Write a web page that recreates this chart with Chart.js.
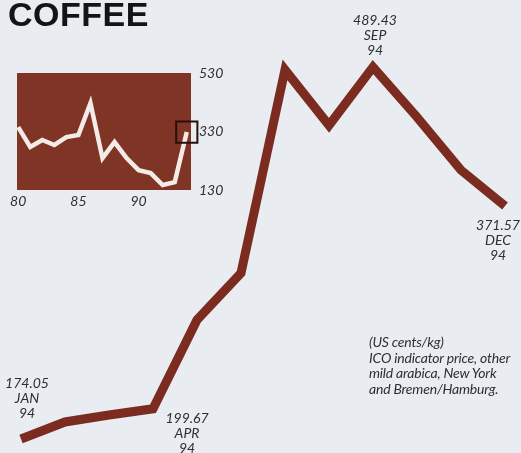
<!DOCTYPE html>
<html>
<head>
<meta charset="utf-8">
<script src="https://cdn.jsdelivr.net/npm/chart.js@4/dist/chart.umd.min.js"></script>
<style>
  html, body { margin: 0; padding: 0; background: #e9ecf0; }
  #wrap { position: relative; width: 521px; height: 453px; overflow: hidden; background: #e9ecf0; }
  #main { position: absolute; left: 0; top: 0; }
  #inset { position: absolute; left: 0; top: 55px; }
  h1 {
    position: absolute; left: 8px; top: -5px; margin: 0;
    font: bold 34px "Liberation Sans", Arial, sans-serif; color: #141414; letter-spacing: 0.5px;
  }
  .note {
    position: absolute; left: 369px; top: 334px;
    font: italic 14px Lato, "Open Sans", sans-serif; line-height: 15.5px; color: #2f2f2f;
    white-space: nowrap; letter-spacing: -0.2px;
  }
</style>
</head>
<body>
<div id="wrap">
  <canvas id="main" width="521" height="453"></canvas>
  <canvas id="inset" width="235" height="165"></canvas>
  <h1>COFFEE</h1>
  <div class="note">(US cents/kg)<br>ICO indicator price, other<br>mild arabica, New York<br>and Bremen/Hamburg.</div>
</div>
<script>
// Monthly ICO indicator price, 1994 (US cents/kg)
const months = ['JAN', 'FEB', 'MAR', 'APR', 'MAY', 'JUN', 'JUL', 'AUG', 'SEP', 'OCT', 'NOV', 'DEC'];
const prices1994 = [174.05, 188.5, 194.4, 199.67, 275.0, 314.8, 487.0, 440.0, 489.43, 447.0, 402.0, 371.57];
const labelledMonths = ['JAN', 'APR', 'SEP', 'DEC'];
const yearLabel = '94';

// Annual averages 1980-1994 for the small chart
const years = [1980, 1981, 1982, 1983, 1984, 1985, 1986, 1987, 1988, 1989, 1990, 1991, 1992, 1993, 1994];
const annualPrices = [345, 277, 301, 284, 311, 318, 427, 239, 294, 239, 198, 188, 147, 157, 328];
const insetYTicks = [130, 330, 530];
const insetXTicks = [1980, 1985, 1990];

Chart.defaults.font.family = 'Lato, "Open Sans", sans-serif';
Chart.defaults.color = '#333';

const LINE = '#7b2b1f';
const TEXT = '#2f2f2f';

// Where each callout sits relative to its point: [dx, dy of first line]
const calloutOffset = {
  JAN: [6, -56],
  APR: [34, 10],
  SEP: [2, -47],
  DEC: [-7, 19]
};

const callouts = {
  id: 'callouts',
  afterDatasetsDraw(chart) {
    const { ctx, scales: { x, y } } = chart;
    ctx.save();
    ctx.font = 'italic 14px Lato, "Open Sans", sans-serif';
    ctx.fillStyle = TEXT;
    ctx.textAlign = 'center';
    ctx.textBaseline = 'middle';
    labelledMonths.forEach(m => {
      const i = months.indexOf(m);
      const px = x.getPixelForValue(i);
      const py = y.getPixelForValue(prices1994[i]);
      const [dx, dy] = calloutOffset[m];
      const lines = [prices1994[i].toFixed(2), m, yearLabel];
      lines.forEach((t, k) => ctx.fillText(t, px + dx, py + dy + k * 15));
    });
    ctx.restore();
  }
};

new Chart(document.getElementById('main'), {
  type: 'line',
  data: {
    labels: months,
    datasets: [{
      data: prices1994,
      borderColor: LINE,
      borderWidth: 9,
      borderJoinStyle: 'miter',
      borderCapStyle: 'butt',
      pointRadius: 0,
      tension: 0,
      clip: false
    }]
  },
  options: {
    responsive: false,
    animation: false,
    events: [],
    layout: { padding: { left: 21, right: 16, top: 67, bottom: 14 } },
    plugins: { legend: { display: false }, tooltip: { enabled: false } },
    scales: {
      x: { type: 'category', display: false, offset: false },
      y: { display: false, min: Math.min(...prices1994), max: Math.max(...prices1994) }
    }
  },
  plugins: [callouts]
});

// Brown panel behind the small chart
const panel = {
  id: 'panel',
  beforeDatasetsDraw(chart) {
    const { ctx, chartArea: a } = chart;
    ctx.save();
    ctx.fillStyle = '#803426';
    ctx.fillRect(a.left, a.top, a.right - a.left, a.bottom - a.top);
    ctx.restore();
  }
};

const lastIdx = years.length - 1;

new Chart(document.getElementById('inset'), {
  type: 'line',
  data: {
    datasets: [{
      data: years.map((yr, i) => ({ x: yr, y: annualPrices[i] })),
      borderColor: '#f3ebe7',
      borderWidth: 4.5,
      tension: 0,
      clip: false,
      pointStyle: 'rect',
      pointRadius: years.map((_, i) => (i === lastIdx ? 15 : 0)),
      pointBorderWidth: 2,
      pointBorderColor: '#2a0e09',
      pointBackgroundColor: 'rgba(0,0,0,0)'
    }]
  },
  options: {
    responsive: false,
    animation: false,
    events: [],
    layout: { padding: { left: 15, top: 18, right: 0, bottom: 0 } },
    plugins: { legend: { display: false }, tooltip: { enabled: false } },
    scales: {
      x: {
        type: 'linear',
        min: 1979.9,
        max: 1994.35,
        grid: { display: false, drawTicks: false },
        border: { display: false },
        afterBuildTicks: s => { s.ticks = insetXTicks.map(v => ({ value: v })); },
        afterFit: s => { s.height = 30; },
        ticks: {
          autoSkip: false,
          maxRotation: 0,
          padding: 3,
          color: TEXT,
          font: { size: 14, style: 'italic' },
          callback: v => String(v).slice(2)
        }
      },
      y: {
        position: 'right',
        min: 130,
        max: 530,
        grid: { display: false, drawTicks: false },
        border: { display: false },
        afterBuildTicks: s => { s.ticks = insetYTicks.map(v => ({ value: v })); },
        afterFit: s => { s.width = 44; },
        ticks: {
          padding: 8,
          color: TEXT,
          font: { size: 14, style: 'italic' }
        }
      }
    }
  },
  plugins: [panel]
});
</script>
</body>
</html>
